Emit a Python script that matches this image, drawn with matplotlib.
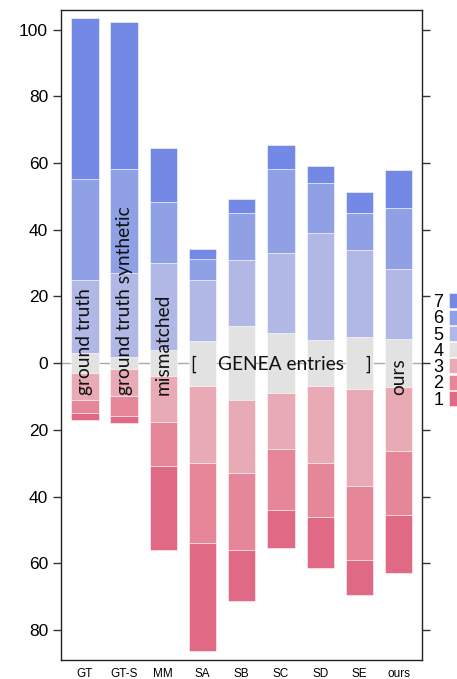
import numpy as np
import matplotlib
matplotlib.use("Agg")
import matplotlib.pyplot as plt
from matplotlib.patches import Patch
from matplotlib.ticker import FuncFormatter

# systems on the x axis
systems = ["GT", "GT-S", "MM", "SA", "SB", "SC", "SD", "SE", "ours"]

# rating counts per level (1 = worst, 7 = best)
r1 = [2.2, 2.2, 25.2, 32.3, 15.3, 11.3, 15.5, 10.5, 17.3]
r2 = [4.0, 6.0, 13.2, 24.0, 23.0, 18.2, 16.0, 22.2, 19.2]
r3 = [8.0, 8.1, 13.8, 23.3, 22.0, 16.8, 23.2, 29.0, 19.0]
r4 = [6.0, 3.5, 7.7, 13.5, 22.0, 18.0, 13.6, 15.7, 14.6]
r5 = [22.0, 25.2, 26.3, 18.2, 20.0, 24.1, 32.3, 26.0, 21.0]
r6 = [30.2, 31.3, 18.1, 6.2, 13.9, 25.2, 15.0, 11.1, 18.3]
r7 = [48.3, 44.1, 16.2, 3.0, 4.4, 7.2, 5.1, 6.3, 11.3]

level_labels = ["1", "2", "3", "4", "5", "6", "7"]
colors = ["#e06a86", "#e68799", "#e8abb6", "#e2e2e2",
          "#b1b8e6", "#8fa0e4", "#7489e6"]

fig = plt.figure(figsize=(4.57, 6.79), dpi=100)
ax = fig.add_axes([0.134, 0.028, 0.79, 0.958])

x = np.arange(len(systems))
w = 0.7
ax.axhline(0, color="#aaaaaa", lw=1, zorder=0.5)

# diverging stack: neutral level centred on zero
half = np.array(r4) / 2
edge = dict(edgecolor=(1, 1, 1, 0.6), linewidth=0.6, zorder=2)

ax.bar(x, r4, w, bottom=-half, color=colors[3], **edge)
top = half.copy()
for vals, c in zip([r5, r6, r7], colors[4:]):
    ax.bar(x, vals, w, bottom=top, color=c, **edge)
    top = top + np.array(vals)
low = -half
for vals, c in zip([r3, r2, r1], [colors[2], colors[1], colors[0]]):
    low = low - np.array(vals)
    ax.bar(x, vals, w, bottom=low, color=c, **edge)

ax.set_xlim(-0.6, 8.6)
ax.set_ylim(-89, 106)
ax.set_yticks(np.arange(-80, 101, 20))
ax.yaxis.set_major_formatter(FuncFormatter(lambda v, p: f"{abs(v):.0f}"))
ax.set_xticks(x)
ax.set_xticklabels(systems, fontsize=8.5, family="Liberation Sans")
ax.tick_params(axis="x", length=0, pad=6)
ax.tick_params(axis="y", length=6, width=1, labelsize=12.5, right=True,
               direction="out", color="#333333")
for lab in ax.get_yticklabels():
    lab.set_family("Liberation Sans")
for s in ax.spines.values():
    s.set_color("#222222")
    s.set_linewidth(1)

# annotations inside the bars
tfont = dict(family="Lato", fontsize=13.8, color="#111111")
for i, t in [(0, "ground truth"), (1, "ground truth synthetic"),
             (2, "mismatched"), (8, "ours")]:
    ax.text(i, -9.7, t, rotation=90, ha="center", va="bottom",
            zorder=3, **tfont)
ax.text(2.77, 0, "[", ha="center", va="center_baseline", zorder=3, **tfont)
ax.text(5.0, 0, "GENEA entries", ha="center", va="center_baseline",
        zorder=3, **tfont)
ax.text(7.23, 0, "]", ha="center", va="center_baseline", zorder=3, **tfont)

# legend, highest level on top
handles = [Patch(facecolor=c, edgecolor=(1, 1, 1, 0.6), linewidth=0.6)
           for c in colors][::-1]
fig.legend(handles, level_labels[::-1], loc="upper left",
           bbox_to_anchor=(0.948, 0.568), frameon=False, markerfirst=False,
           handlelength=1.0, handleheight=0.9, handletextpad=0.3,
           labelspacing=-0.08, borderpad=0, borderaxespad=0,
           prop=dict(family="Liberation Sans", size=13))

fig.savefig("out.png", dpi=100)
